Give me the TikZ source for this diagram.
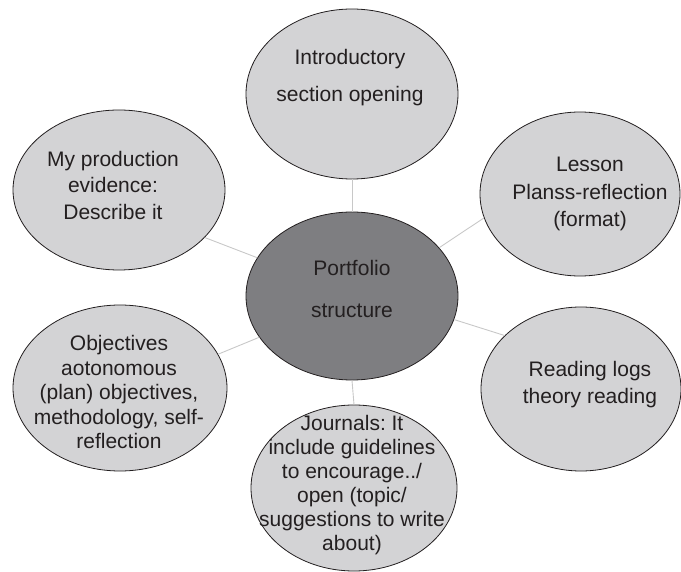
\documentclass[tikz,border=0pt]{standalone}
\usepackage{fontspec}
\setmainfont{Liberation Sans}
\usetikzlibrary{shapes.geometric, positioning, calc}
\frenchspacing

\definecolor{bubblefill}{HTML}{D3D3D5}
\definecolor{hubfill}{HTML}{7E7E81}
\definecolor{linkgray}{HTML}{C8C8C8}
\definecolor{inkgray}{HTML}{231F20}

\tikzset{
  bubble/.style={draw=inkgray, ellipse, fill=bubblefill, line width=0.8pt, inner sep=0pt},
  hubbubble/.style={bubble, fill=hubfill},
  bubbletext/.style={align=center, text=inkgray, inner sep=0pt, font=\fontsize{21}{25}\selectfont},
  link/.style={draw=linkgray, line width=0.9pt}
}

\begin{document}
\begin{tikzpicture}[x=1pt, y=-1pt]
        \useasboundingbox (0,0) rectangle (681,572);

        % Ellipses
        \node[hubbubble, minimum width=212, minimum height=168] (hub) at (352,296) {};
        \node[bubble, minimum width=212, minimum height=170] (intro) at (352,94) {};
        \node[bubble, minimum width=212, minimum height=160] (prod) at (119,190) {};
        \node[bubble, minimum width=200, minimum height=164] (lesson) at (580,194) {};
        \node[bubble, minimum width=200, minimum height=164] (reading) at (581,389) {};
        \node[bubble, minimum width=214, minimum height=166] (objectives) at (120,388) {};
        \node[bubble, minimum width=206, minimum height=166] (journals) at (354,488) {};

        % Texts
        \node[bubbletext, font=\fontsize{21}{42}\selectfont] (hubtext) at (352,289) {Portfolio\\structure};
        \node[bubbletext, font=\fontsize{21}{37}\selectfont] (introtext) at (350,78) {Introductory\\section opening};
        \node[bubbletext, font=\fontsize{21}{26.5}\selectfont] (prodtext) at (113,185) {My production\\evidence:\\Describe it};
        \node[bubbletext, font=\fontsize{21}{27.5}\selectfont] (lessontext) at (590,194) {Lesson\\Planss-reflection\\(format)};
        \node[bubbletext, font=\fontsize{21}{27}\selectfont] (readingtext) at (590,385) {Reading logs\\theory reading};
        \node[bubbletext, font=\fontsize{21}{24.5}\selectfont] (objectivestext) at (119,392) {Objectives\\aotonomous\\(plan) objectives,\\methodology, self-\\reflection};
        \node[bubbletext, font=\fontsize{21}{24}\selectfont] (journalstext) at (352,485) {Journals: It\\include guidelines\\to encourage../\\open (topic/\\suggestions to write\\about)};

        % Connectors
        \draw[link] (hub.90) -- (intro.270);
        \draw[link] (hub.158) -- (prod.331);
        \draw[link] (hub.29) -- (lesson.194);
        \draw[link] (hub.347) -- (reading.145);
        \draw[link] (hub.204) -- (objectives.19);
        \draw[link] (hub.270) -- (journals.90);
    \end{tikzpicture}
\end{document}
